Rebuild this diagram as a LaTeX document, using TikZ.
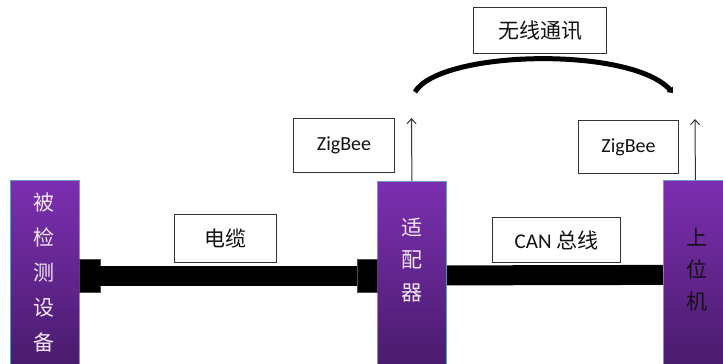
\documentclass[tikz,border=0pt]{standalone}
\usepackage{fontspec}
\setmainfont{Carlito}
\newfontfamily\cjk{Noto Sans CJK SC}
\usetikzlibrary{arrows.meta}
\definecolor{purpletop}{HTML}{7B2FB0}
\definecolor{purplebot}{HTML}{4A1C6E}
\definecolor{boxedge}{HTML}{6A9AD0}
\definecolor{labeledge}{HTML}{333333}
\definecolor{lighttext}{HTML}{F4E8F6}
\definecolor{darktext}{HTML}{121212}
\begin{document}
\begin{tikzpicture}[x=1pt,y=-1pt,
  devbox/.style={draw=boxedge, line width=0.8pt,
    minimum width=69pt, minimum height=184pt, inner sep=0pt, anchor=north west},
  vtext/.style={align=center, inner sep=0pt},
  plug/.style={fill=black, draw=black!70, line width=0.4pt, minimum width=21pt, minimum height=33pt,
    inner sep=0pt, anchor=north west},
  cable/.style={draw=black, line width=20pt},
  labelbox/.style={draw=labeledge, line width=1pt, fill=white, inner sep=0pt, anchor=north west,
    text=darktext},
  uparrow/.style={draw=labeledge, line width=1pt, -{Straight Barb[length=5pt,width=9pt]}},
  wireless/.style={draw=black, line width=5pt, -{Triangle[length=5pt,width=8pt]}}
]
\useasboundingbox (0,0) rectangle (723,364);
\fill[white] (0,0) rectangle (723,364);

% gradient fills of the device boxes (drawn as strips)
\foreach \bx/\by/\bw in {10/180/69, 377/181/69, 663/180/70}{
  \foreach \i in {0,...,45}{
    \pgfmathsetmacro\p{100*\i/45}
    \fill[purplebot!\p!purpletop] (\bx,{\by+4*\i}) rectangle ({\bx+\bw},{\by+4*\i+4.6});
  }
}

% device boxes
\node[devbox] (dev) at (10,180) {};
\node[devbox, minimum height=183pt] (adp) at (377,181) {};
\node[devbox, minimum width=70pt] (host) at (663,180) {};

% plugs and cables
\node[plug] (p1) at (79,259) {};
\node[plug, minimum width=20pt] (p2) at (357,259) {};
\draw[cable] (p1.east) -- (p2.west);
\draw[cable] ([yshift=-2.5pt]adp.east) -- ([yshift=-2.5pt]host.west);

% labels
\node[labelbox, minimum width=102pt, minimum height=48pt, font=\cjk\fontsize{21}{24}\selectfont] (lcable) at (174,214) {电缆};
\node[labelbox, minimum width=128pt, minimum height=45pt, font=\fontsize{21}{24}\selectfont] (lcan) at (492,217) {CAN {\cjk 总线}};
\node[labelbox, minimum width=101pt, minimum height=54pt, font=\fontsize{20}{24}\selectfont] (lzb1) at (293,118) {ZigBee};
\node[labelbox, minimum width=100pt, minimum height=53pt, font=\fontsize{20}{24}\selectfont] (lzb2) at (578,120) {ZigBee};
\node[labelbox, minimum width=133pt, minimum height=46pt, font=\cjk\fontsize{21}{24}\selectfont] (lwl) at (473,7) {无线通讯};

% antenna arrows
\coordinate (t1) at (411.5,118);
\coordinate (t2) at (695,119);
\draw[uparrow] (adp.north) -- (t1);
\draw[uparrow] ([xshift=-3pt]host.north) -- (t2);

% wireless arc
\coordinate (w1) at (415,92);
\coordinate (w2) at (673,93);
\draw[wireless] (w1) .. controls (440,50) and (630,46) .. (w2);

% box texts
\node[vtext, text=darktext, font=\cjk\fontsize{21}{32}\selectfont] (hostt) at (697,270) {上\\位\\机};
\node[vtext, text=lighttext, font=\cjk\fontsize{21}{35}\selectfont] (devt) at (44.5,273) {被\\检\\测\\设\\备};
\node[vtext, text=lighttext, font=\cjk\fontsize{21}{32.5}\selectfont] (adpt) at (411.5,260) {适\\配\\器};
\end{tikzpicture}
\end{document}
